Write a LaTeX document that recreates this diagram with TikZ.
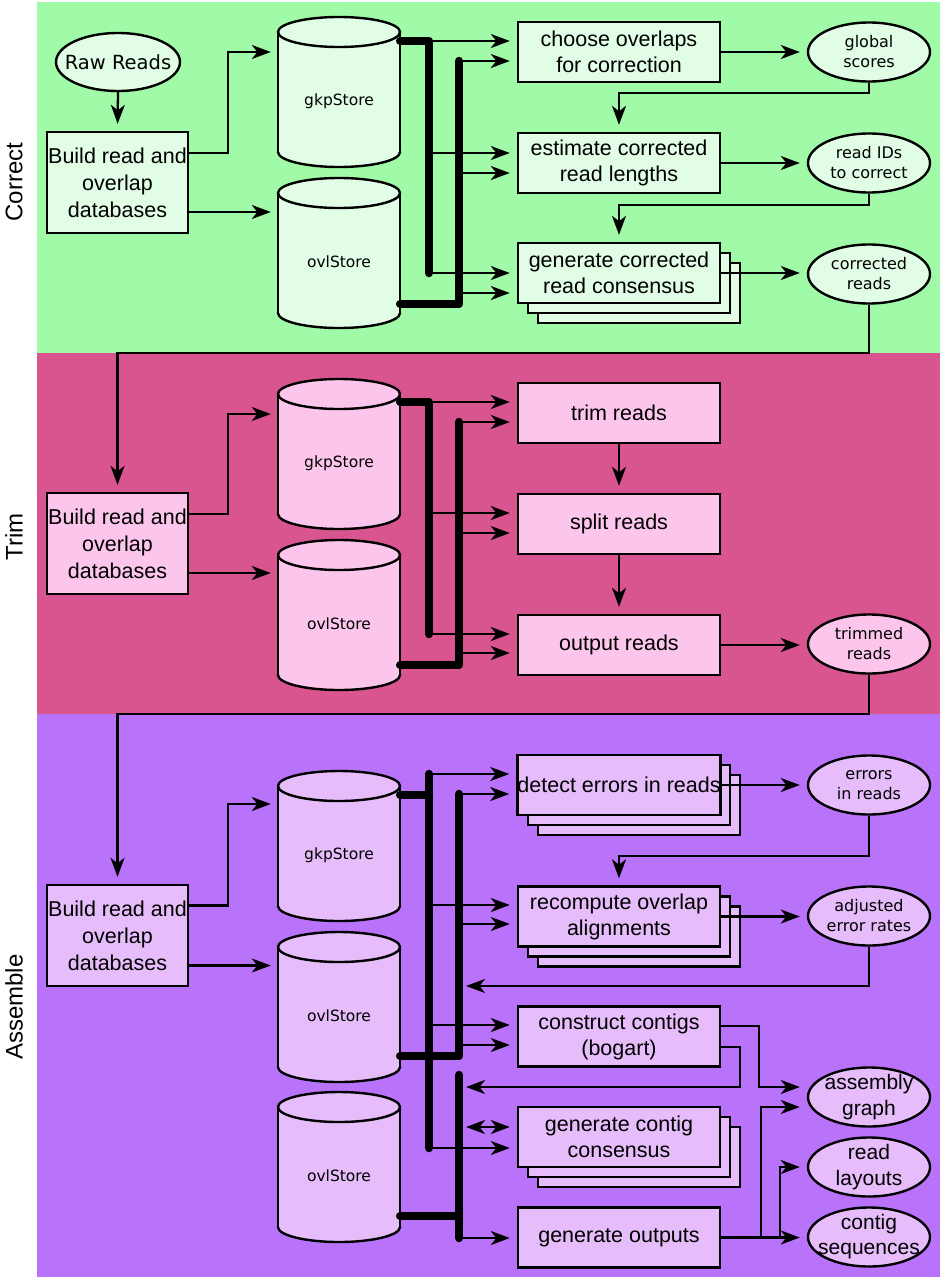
\documentclass[tikz,border=0pt]{standalone}
\usepackage{fontspec}
\setmainfont{Liberation Sans}
\newfontfamily\vera{DejaVu Sans}
\usetikzlibrary{shapes.geometric,arrows.meta,calc}

\definecolor{corrbg}{RGB}{160,250,168}
\definecolor{corrfill}{RGB}{226,253,230}
\definecolor{trimbg}{RGB}{216,85,143}
\definecolor{trimfill}{RGB}{252,198,236}
\definecolor{asmbg}{RGB}{185,115,250}
\definecolor{asmfill}{RGB}{230,188,250}

\tikzset{
  outline/.style={line width=2.4pt},
  proc/.style={draw, line width=2.4pt, minimum width=202pt, minimum height=60pt,
    inner sep=0pt, align=center, font=\fontsize{21.5}{26}\selectfont},
  build/.style={draw, line width=2.4pt, minimum width=141pt, minimum height=101pt,
    inner sep=0pt, align=center, font=\fontsize{21.5}{27}\selectfont},
  shadowbox/.style={draw, line width=2.4pt, minimum width=202pt, minimum height=60pt, inner sep=0pt},
  product/.style={ellipse, draw, line width=2.4pt, minimum width=122pt, minimum height=59pt,
    inner sep=0pt},
  ptext/.style={inner sep=0pt, align=center, font=\vera\fontsize{16}{20}\selectfont},
  bigtext/.style={inner sep=0pt, align=center, font=\fontsize{21}{26}\selectfont},
  storebody/.style={minimum width=122pt, minimum height=150pt, inner sep=0pt},
  storelabel/.style={font=\vera\fontsize{15.5}{19}\selectfont, inner sep=0pt},
  stage/.style={rotate=90, font=\fontsize{24}{28}\selectfont, inner sep=0pt},
  link/.style={line width=2.3pt},
  tip/.tip={Stealth[length=19pt,width=14pt,inset=5.5pt]},
  arr/.style={link, -tip, shorten >=7pt},
  darr/.style={link, tip-tip, shorten >=7pt, shorten <=7pt},
  bus/.style={line width=8.5pt, line cap=round, line join=round},
}

% database drum: #1 name, #2 centre x, #3 top y, #4 label, #5 fill colour
\newcommand\dbstore[5]{%
  \fill[#5] (#2,{#3+135}) ellipse[x radius=61, y radius=15];
  \draw[outline] (#2,{#3+135}) ellipse[x radius=61, y radius=15];
  \fill[#5] ({#2-61},{#3+15}) rectangle ({#2+61},{#3+135});
  \draw[outline] ({#2-61},{#3+15}) -- ({#2-61},{#3+135}) ({#2+61},{#3+15}) -- ({#2+61},{#3+135});
  \filldraw[outline, fill=#5] (#2,{#3+15}) ellipse[x radius=61, y radius=15];
  \node[storebody] (#1) at (#2,{#3+75}) {};
  \node[storelabel] (#1-text) at (#2,{#3+84}) {#4};
}

\begin{document}
\begin{tikzpicture}[x=1pt,y=-1pt]
\useasboundingbox (0,0) rectangle (944,1280);

% stage bands
\fill[corrbg] (37,2) rectangle (940,353);
\fill[trimbg] (37,353) rectangle (940,714);
\fill[asmbg] (37,714) rectangle (940,1277);

\node[stage] (stC) at (14,182) {Correct};
\node[stage] (stT) at (14,537) {Trim};
\node[stage] (stA) at (14,1007) {Assemble};

% ================= Correct =================
\node[product, fill=corrfill, minimum width=124pt, minimum height=58pt] (raw) at (118,62) {};
\node[ptext, font=\vera\fontsize{19.5}{23}\selectfont] (raw-text) at (raw) {Raw Reads};
\node[build, fill=corrfill] (bC) at (117.5,182.5) {Build read and\\overlap\\databases};
\dbstore{gkpC}{339}{17}{gkpStore}{corrfill}
\dbstore{ovlC}{339}{178}{ovlStore}{corrfill}

\node[proc, fill=corrfill] (choose) at (619,52) {choose overlaps\\for correction};
\node[proc, fill=corrfill] (estim) at (619,163) {estimate corrected\\read lengths};
\node[shadowbox, fill=corrfill] (gencS2) at (639,293) {};
\node[shadowbox, fill=corrfill] (gencS1) at (629,283) {};
\node[proc, fill=corrfill] (genc) at (619,273) {generate corrected\\read consensus};

\node[product, fill=corrfill] (gscore) at (869,52) {};
\node[ptext] (gscore-text) at (gscore) {global\\scores};
\node[product, fill=corrfill] (rids) at (869,163) {};
\node[ptext] (rids-text) at (rids) {read IDs\\to correct};
\node[product, fill=corrfill] (creads) at (869,274) {};
\node[ptext] (creads-text) at (creads) {corrected\\reads};

\draw[arr] (raw.south) -- (bC.north);
\coordinate (bC1) at ($(bC.east)+(0,-29.5)$);
\coordinate (bC2) at ($(bC.east)+(0,29.5)$);
\coordinate (gkpCin) at ($(gkpC.west)+(0,-40)$);
\draw[arr] (bC1) -| ($(gkpCin)+(-50,0)$) -- (gkpCin);
\draw[arr] (bC2) -- (bC2 -| ovlC.west);

\coordinate (c1t) at (429,41);
\coordinate (c1e) at (429,153);
\coordinate (c1b) at (429,273);
\coordinate (c2t) at (459,61);
\coordinate (c2e) at (459,173);
\coordinate (c2g) at (459,293);
\coordinate (c2b) at (459,304);
\draw[bus] (gkpC.east |- c1t) -- (c1t) -- (c1b);
\draw[bus] (c2t) -- (c2b) -- (ovlC.east |- c2b);
\draw[arr] (c1t) -- (c1t -| choose.west);
\draw[arr] (c2t) -- (c2t -| choose.west);
\draw[arr] (c1e) -- (c1e -| estim.west);
\draw[arr] (c2e) -- (c2e -| estim.west);
\draw[arr] (c1b) -- (c1b -| genc.west);
\draw[arr] (c2g) -- (c2g -| genc.west);

\draw[arr] (choose.east) -- (gscore.west);
\draw[arr] (gscore.south) -- ++(0,10) -| (estim.north);
\draw[arr] (estim.east) -- (rids.west);
\draw[arr] (rids.south) -- ++(0,11) -| (genc.north);
\draw[arr] (genc.east) -- (genc.east -| creads.west);

% ================= Trim =================
\node[build, fill=trimfill] (bT) at (117.5,543.5) {Build read and\\overlap\\databases};
\dbstore{gkpT}{339}{379}{gkpStore}{trimfill}
\dbstore{ovlT}{339}{540}{ovlStore}{trimfill}

\node[proc, fill=trimfill] (trimr) at (619,413) {trim reads};
\node[proc, fill=trimfill] (split) at (619,524) {split reads};
\node[proc, fill=trimfill] (outr) at (619,645) {output reads};
\node[product, fill=trimfill] (trimmed) at (869,644) {};
\node[ptext] (trimmed-text) at (trimmed) {trimmed\\reads};

\coordinate (h1) at (0,353);
\draw[arr] (creads.south) |- (bT.north |- h1) -- (bT.north);

\coordinate (bT1) at ($(bT.east)+(0,-29.5)$);
\coordinate (bT2) at ($(bT.east)+(0,29.5)$);
\coordinate (gkpTin) at ($(gkpT.west)+(0,-40)$);
\draw[arr] (bT1) -| ($(gkpTin)+(-50,0)$) -- (gkpTin);
\draw[arr] (bT2) -- (bT2 -| ovlT.west);

\coordinate (t1t) at (429,402);
\coordinate (t1e) at (429,513);
\coordinate (t1b) at (429,634);
\coordinate (t2t) at (459,422);
\coordinate (t2e) at (459,533);
\coordinate (t2g) at (459,653);
\coordinate (t2b) at (459,665);
\draw[bus] (gkpT.east |- t1t) -- (t1t) -- (t1b);
\draw[bus] (t2t) -- (t2b) -- (ovlT.east |- t2b);
\draw[arr] (t1t) -- (t1t -| trimr.west);
\draw[arr] (t2t) -- (t2t -| trimr.west);
\draw[arr] (t1e) -- (t1e -| split.west);
\draw[arr] (t2e) -- (t2e -| split.west);
\draw[arr] (t1b) -- (t1b -| outr.west);
\draw[arr] (t2g) -- (t2g -| outr.west);

\draw[arr] (trimr.south) -- (split.north);
\draw[arr] (split.south) -- (outr.north);
\draw[arr] (outr.east) -- (outr.east -| trimmed.west);

% ================= Assemble =================
\node[build, fill=asmfill] (bA) at (117.5,935.5) {Build read and\\overlap\\databases};
\dbstore{gkpA}{339}{771}{gkpStore}{asmfill}
\dbstore{ovlA}{339}{932}{ovlStore}{asmfill}
\dbstore{ovlB}{339}{1092}{ovlStore}{asmfill}

\coordinate (h2) at (0,714);
\draw[arr] (trimmed.south) |- (bA.north |- h2) -- (bA.north);

\coordinate (bA1) at ($(bA.east)+(0,-30)$);
\coordinate (bA2) at ($(bA.east)+(0,30)$);
\coordinate (gkpAin) at ($(gkpA.west)+(0,-42)$);
\draw[arr] (bA1) -| ($(gkpAin)+(-50,0)$) -- (gkpAin);
\draw[arr] (bA2) -- (bA2 -| ovlA.west);

\node[shadowbox, fill=asmfill] (detS2) at (639,805) {};
\node[shadowbox, fill=asmfill] (detS1) at (629,795) {};
\node[proc, fill=asmfill] (detect) at (619,785) {detect errors in reads};
\node[shadowbox, fill=asmfill] (recS2) at (639,936.5) {};
\node[shadowbox, fill=asmfill] (recS1) at (629,926.5) {};
\node[proc, fill=asmfill] (recomp) at (619,916.5) {recompute overlap\\alignments};
\node[proc, fill=asmfill] (constr) at (619,1036.5) {construct contigs\\(bogart)};
\node[shadowbox, fill=asmfill] (consS2) at (639,1157) {};
\node[shadowbox, fill=asmfill] (consS1) at (629,1147) {};
\node[proc, fill=asmfill] (cons) at (619,1137) {generate contig\\consensus};
\node[proc, fill=asmfill] (gout) at (619,1237.5) {generate outputs};

\node[product, fill=asmfill] (errs) at (869,785) {};
\node[ptext] (errs-text) at (errs) {errors\\in reads};
\node[product, fill=asmfill] (adj) at (869,916) {};
\node[ptext] (adj-text) at (adj) {adjusted\\error rates};
\node[product, fill=asmfill] (asmg) at (869,1097) {};
\node[bigtext] (asmg-text) at (asmg) {assembly\\graph};
\node[product, fill=asmfill] (rlay) at (869,1167) {};
\node[bigtext] (rlay-text) at (rlay) {read\\layouts};
\node[product, fill=asmfill] (cseq) at (869,1237) {};
\node[bigtext, font=\fontsize{21}{25}\selectfont] (cseq-text) at (cseq) {contig\\sequences};

\coordinate (a1t) at (429,774);
\coordinate (a1g) at (429,795);
\coordinate (a1r) at (429,905);
\coordinate (a1k) at (429,1025);
\coordinate (a1b) at (429,1148);
\coordinate (a2t) at (459,794);
\coordinate (a2r) at (459,924);
\coordinate (a2x) at (459,986);
\coordinate (a2k) at (459,1045);
\coordinate (a2b) at (459,1056);
\coordinate (a3t) at (459,1075);
\coordinate (a3x) at (459,1087);
\coordinate (a3c) at (459,1127);
\coordinate (a3o) at (459,1216);
\coordinate (a3b) at (459,1238);
\draw[bus] (gkpA.east |- a1g) -- (a1g);
\draw[bus] (a1t) -- (a1b);
\draw[bus] (a2t) -- (a2b) -- (ovlA.east |- a2b);
\draw[bus] (a3t) -- (a3b);
\draw[bus] (ovlB.east |- a3o) -- (a3o);

\draw[arr] (a1t) -- (a1t -| detect.west);
\draw[arr] (a2t) -- (a2t -| detect.west);
\draw[arr] (a1r) -- (a1r -| recomp.west);
\draw[arr] (a2r) -- (a2r -| recomp.west);
\draw[arr] (a1k) -- (a1k -| constr.west);
\draw[arr] (a2k) -- (a2k -| constr.west);
\draw[darr] (a3c) -- (a3c -| cons.west);
\draw[arr] (a1b) -- (a1b -| cons.west);
\draw[arr] (a3b) -- (a3b -| gout.west);

\draw[arr] (detect.east) -- (errs.west);
\draw[arr] (errs.south) -- ++(0,40) -| (recomp.north);
\draw[arr] (recomp.east) -- (recomp.east -| adj.west);
\draw[arr] (adj.south) |- (a2x);

\coordinate (k1) at ($(constr.east)+(0,-10.5)$);
\coordinate (k2) at ($(constr.east)+(0,10.5)$);
\coordinate (g1) at ($(asmg.west)+(0,-10)$);
\coordinate (g2) at ($(asmg.west)+(0,10)$);
\draw[arr] (k1) -| ($(g1)+(-48,0)$) -- (g1);
\draw[arr] (k2) -| ($(a3x)+(281,0)$) -- (a3x);

\draw[arr] (gout.east) -- (gout.east -| cseq.west);
\draw[arr] ($(gout.east)+(40,0)$) |- (g2);
\draw[arr] ($(gout.east)+(59,0)$) |- (rlay.west);

\end{tikzpicture}
\end{document}
